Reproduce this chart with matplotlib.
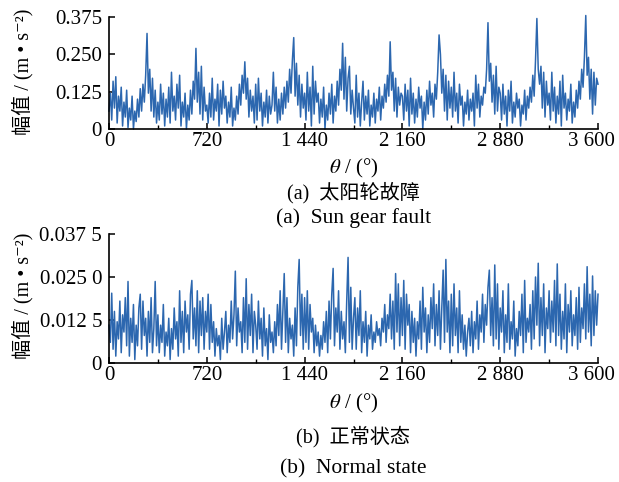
import numpy as np
import matplotlib
matplotlib.use('Agg')
import matplotlib.pyplot as plt
import matplotlib.transforms as mtrans

plt.rcParams['font.family'] = ['Liberation Serif', 'Noto Sans CJK SC', 'DejaVu Serif']
plt.rcParams['mathtext.fontset'] = 'stix'

# amplitude, 10 deg steps, units of 1e-3 m/s^2
fault_e3 = [
    60, 120, 30, 160, 70, 175, 20, 110, 60, 140, 10, 90, 40, 130, 5, 70, 30, 110, 0, 60,
    25, 100, 40, 135, 60, 150, 90, 180, 320, 120, 200, 60, 170, 40, 130, 20,
    90, 30, 150, 50, 120, 10, 100, 40, 140, 20, 190, 60, 110, 30, 150, 70, 180, 10, 90, 40,
    120, 0, 80, 30, 130, 50, 160, 100, 270, 90, 190, 50, 210, 30, 140, 60,
    80, 20, 120, 40, 170, 30, 100, 60, 150, 10, 130, 50, 160, 70, 110, 20, 90, 40, 140, 10,
    70, 30, 110, 50, 150, 80, 180, 120, 225, 100, 170, 40, 130, 60, 110, 20,
    150, 30, 170, 60, 120, 10, 90, 40, 130, 20, 110, 50, 80, 190, 60, 140, 20, 100, 30, 120,
    50, 140, 70, 160, 90, 200, 120, 230, 306, 110, 220, 80, 180, 40, 150, 70,
    120, 30, 190, 60, 140, 10, 210, 50, 160, 90, 120, 20, 100, 40, 140, 0, 80, 30, 120, 50,
    150, 20, 110, 60, 160, 80, 200, 130, 287, 100, 240, 60, 170, 210, 50, 130,
    70, 20, 180, 40, 120, 10, 90, 160, 30, 110, 50, 130, 10, 80, 40, 120, 20, 100, 60, 140,
    30, 110, 70, 150, 90, 180, 110, 292, 130, 190, 60, 170, 40, 140, 80, 120,
    110, 30, 150, 60, 130, 10, 170, 50, 120, 20, 100, 40, 140, 70, 110, 0, 90, 30, 130, 50,
    160, 80, 120, 40, 150, 100, 190, 315, 250, 120, 200, 60, 180, 30, 160, 70,
    140, 40, 190, 60, 120, 20, 150, 80, 110, 10, 90, 50, 130, 30, 100, 60, 120, 10, 180, 70,
    150, 40, 110, 80, 140, 120, 200, 356, 160, 220, 90, 180, 50, 210, 60, 140,
    120, 30, 150, 50, 110, 10, 130, 60, 160, 20, 90, 40, 120, 70, 100, 10, 80, 50, 130, 30,
    110, 70, 140, 90, 180, 110, 230, 370, 200, 150, 210, 70, 190, 40, 160, 80,
    120, 30, 190, 60, 140, 20, 110, 50, 160, 10, 180, 70, 120, 30, 100, 60, 150, 20, 90, 40,
    130, 70, 160, 100, 200, 140, 240, 380, 180, 240, 100, 200, 50, 190, 80, 170, 150,
]

# units of 1e-4 m/s^2
normal_e4 = [
    110, 60, 203, 40, 150, 20, 120, 70, 180, 30, 140, 90, 190, 50, 237, 20, 130, 60, 170, 10,
    110, 50, 160, 200, 40, 180, 80, 130, 20, 150, 60, 190, 30, 100, 237, 50,
    140, 30, 110, 60, 170, 20, 90, 50, 130, 10, 100, 40, 160, 70, 120, 20, 210, 60, 150, 30,
    180, 90, 140, 40, 200, 240, 70, 160, 50, 210, 30, 180, 80, 190, 40, 150,
    90, 200, 40, 170, 60, 120, 20, 100, 50, 80, 10, 130, 40, 90, 150, 30, 110, 60, 180, 70,
    140, 267, 50, 160, 90, 120, 30, 190, 60, 245, 40, 170, 80, 200, 30, 150,
    110, 40, 180, 70, 130, 20, 160, 50, 100, 10, 140, 60, 90, 30, 120, 50, 170, 80, 210, 40,
    150, 260, 60, 190, 30, 130, 70, 110, 20, 160, 50, 220, 301, 80, 200, 40,
    190, 60, 210, 40, 170, 90, 130, 30, 110, 50, 90, 20, 80, 40, 120, 60, 150, 30, 180, 70,
    200, 275, 50, 160, 90, 210, 40, 150, 70, 120, 30, 180, 307, 60, 220, 40,
    130, 190, 40, 160, 80, 210, 30, 120, 60, 150, 20, 110, 70, 140, 40, 90, 60, 120, 80, 100,
    50, 130, 90, 170, 60, 140, 100, 200, 70, 180, 40, 260, 90, 230, 50, 190,
    80, 240, 40, 200, 110, 170, 30, 150, 60, 130, 20, 120, 70, 180, 40, 220, 90, 160, 30, 140,
    60, 190, 100, 230, 50, 170, 80, 210, 40, 160, 270, 60, 301, 90, 180, 30,
    200, 50, 230, 80, 160, 30, 210, 60, 140, 40, 110, 20, 90, 130, 50, 150, 30, 120, 70, 180,
    40, 140, 90, 200, 60, 170, 110, 220, 270, 80, 190, 50, 285, 70, 230, 40,
    160, 90, 210, 30, 140, 60, 230, 40, 120, 70, 180, 20, 100, 50, 150, 80, 200, 30, 240, 60,
    130, 90, 170, 40, 210, 70, 250, 110, 290, 50, 190, 80, 230, 30, 160, 100,
    210, 60, 180, 90, 240, 50, 288, 80, 200, 40, 150, 70, 230, 30, 170, 90, 210, 50, 140, 80,
    190, 40, 220, 60, 160, 100, 230, 70, 280, 90, 200, 50, 253, 80, 210, 110, 200,
]

x_ticks = [0, 720, 1440, 2160, 2880, 3600]
x_labels = ['0', '720', '1 440', '2 160', '2 880', '3 600']
top_yticks = [0, 0.125, 0.25, 0.375]
top_ylabels = ['0', '0.125', '0.250', '0.375']
bot_yticks = [0, 0.0125, 0.025, 0.0375]
bot_ylabels = ['0', '0.012 5', '0.025 0', '0.037 5']

fault = np.array(fault_e3) * 1e-3
normal = np.array(normal_e4) * 1e-4
theta_f = np.linspace(0, 3600, len(fault))
theta_n = np.linspace(0, 3600, len(normal))

W, H = 619, 482
fig = plt.figure(figsize=(W / 100, H / 100), dpi=100)
blue = '#2c67af'
fs = 15


def px(x0, y0, x1, y1):
    return [x0 / W, 1 - y1 / H, (x1 - x0) / W, (y1 - y0) / H]


def setup(ax, yt, yl, ymax):
    ax.set_xlim(0, 3600)
    ax.set_ylim(0, ymax)
    ax.spines['top'].set_visible(False)
    ax.spines['right'].set_visible(False)
    for s in ('left', 'bottom'):
        ax.spines[s].set_linewidth(1.2)
    ax.set_xticks(x_ticks)
    ax.set_xticklabels(x_labels, fontsize=fs)
    ax.set_xticks(np.arange(360, 3600, 720), minor=True)
    ax.set_yticks(yt)
    ax.set_yticklabels(yl, fontsize=fs)
    ax.tick_params(direction='in', length=4, width=1.1)
    ax.tick_params(axis='x', pad=2)
    ax.tick_params(axis='y', pad=5)
    ax.tick_params(which='minor', direction='in', length=3, width=1.0)
    # last label sits a little to the left so it stays inside the figure
    last = ax.get_xticklabels()[-1]
    shift = mtrans.ScaledTranslation(-7 / 100, 0, fig.dpi_scale_trans)
    last.set_transform(last.get_transform() + shift)


ax1 = fig.add_axes(px(109, 17, 598, 129))
ax1.plot(theta_f, fault, color=blue, lw=1.1, clip_on=False)
setup(ax1, top_yticks, top_ylabels, 0.375)

ax2 = fig.add_axes(px(109, 234, 598, 363))
ax2.plot(theta_n, normal, color=blue, lw=1.1, clip_on=False)
setup(ax2, bot_yticks, bot_ylabels, 0.0375)

ylab = '幅值 / (m • s⁻²)'
fig.text(23 / W, 1 - 72 / H, ylab, rotation=90, ha='center', va='center', fontsize=14.5)
fig.text(23 / W, 1 - 296 / H, ylab, rotation=90, ha='center', va='center', fontsize=14.5)

cx = (109 + 598) / 2 / W
xlab = '$\\theta$ / (°)'
fig.text(cx, 1 - 168 / H, xlab, ha='center', va='center', fontsize=fs)
fig.text(cx, 1 - 403 / H, xlab, ha='center', va='center', fontsize=fs)
fig.text(cx, 1 - 193 / H, '(a)  太阳轮故障', ha='center', va='center', fontsize=14.5)
fig.text(cx, 1 - 218 / H, '(a)  Sun gear fault', ha='center', va='center', fontsize=15.5)
fig.text(cx, 1 - 437 / H, '(b)  正常状态', ha='center', va='center', fontsize=14.5)
fig.text(cx, 1 - 469 / H, '(b)  Normal state', ha='center', va='center', fontsize=15.5)

fig.savefig('out.png', dpi=100)
